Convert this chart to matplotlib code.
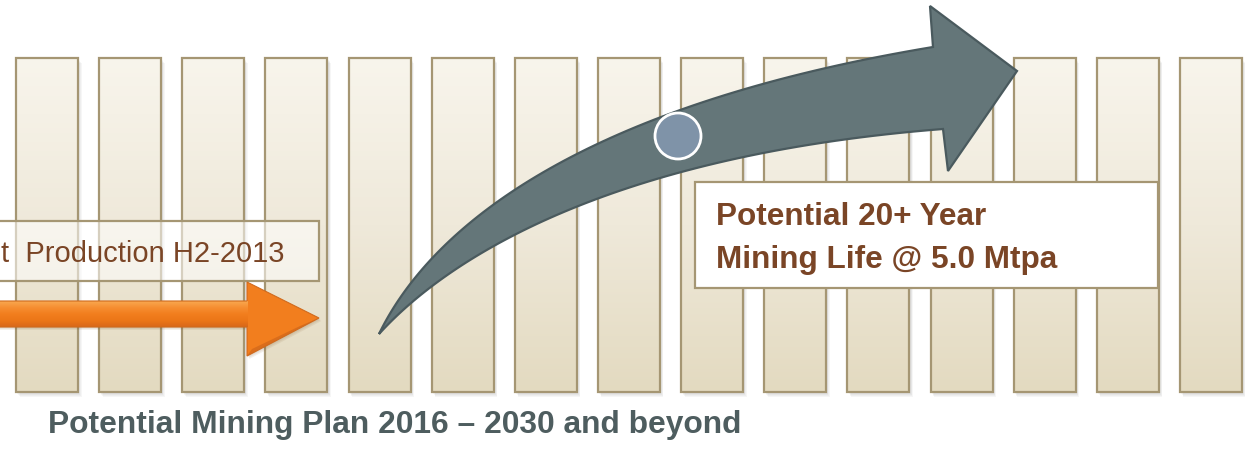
import numpy as np
import matplotlib
matplotlib.use("Agg")
import matplotlib.pyplot as plt
from matplotlib.patches import Rectangle, Polygon, Circle
from matplotlib.colors import LinearSegmentedColormap

# ---- content ----
columns = list(range(15))                       # 15 timeline columns
production_label = "t  Production H2-2013"
life_label_lines = ["Potential 20+ Year", "Mining Life @ 5.0 Mtpa"]
title_label = "Potential Mining Plan 2016 \u2013 2030 and beyond"

W, H = 1247, 452
fig = plt.figure(figsize=(W / 100, H / 100), dpi=100)
ax = fig.add_axes([0, 0, 1, 1])
ax.set_xlim(0, W)
ax.set_ylim(H, 0)
ax.axis("off")

FONT = ["Liberation Sans", "DejaVu Sans"]

# ---- columns ----
col_left0, col_pitch, col_w = 16, 83.14, 62
col_top, col_bot = 59, 393
bar_cmap = LinearSegmentedColormap.from_list("bar", ["#F8F5EC", "#EFE9DA", "#E3DAC0"])
grad = np.linspace(0, 1, 256).reshape(-1, 1)
for i in columns:
    x0 = col_left0 + i * col_pitch
    for k in range(1, 6):
        ax.add_patch(Rectangle((x0 + k * 0.7, col_top + k * 0.9), col_w, col_bot - col_top,
                               facecolor="#606060", edgecolor="none", alpha=0.05, zorder=1))
    im = ax.imshow(grad, cmap=bar_cmap, aspect="auto",
                   extent=(x0, x0 + col_w, col_bot, col_top), zorder=2, interpolation="bilinear")
    r = Rectangle((x0, col_top), col_w, col_bot - col_top, facecolor="none",
                  edgecolor="#A59673", lw=1.6, zorder=3)
    ax.add_patch(r)
    im.set_clip_path(r)

# ---- production box (semi-transparent) ----
ax.add_patch(Rectangle((-3, 222), 322, 60, facecolor="white", alpha=0.55,
                       edgecolor="none", zorder=4))
ax.add_patch(Rectangle((-3, 222), 322, 60, facecolor="none",
                       edgecolor="#A59673", lw=1.6, zorder=4.1))
ax.text(1, 262, production_label, fontsize=21, color="#7A4526", family=FONT,
        va="baseline", ha="left", zorder=5)

# ---- orange arrow ----
orange_pts = [(-10, 302), (247, 302), (247, 283), (319, 319), (247, 357), (247, 328), (-10, 328)]
for k in range(1, 4):
    ax.add_patch(Polygon([(x + k * 0.8, y + k * 1.0) for x, y in orange_pts], closed=True,
                         facecolor="#704010", edgecolor="none", alpha=0.08, zorder=5))
ax.add_patch(Polygon(orange_pts, closed=True, facecolor="#F27E1E", edgecolor="none", zorder=6))
head_shade = Polygon([(247, 357), (319, 319), (300, 327), (252, 350)], closed=True,
                     facecolor="#D0661A", edgecolor="none", alpha=0.7, zorder=6.05)
ax.add_patch(head_shade)
orange_cmap = LinearSegmentedColormap.from_list(
    "orange", ["#F9A850", "#F68E32", "#F27E1E", "#EC7618", "#D8671A"])
shaft = Rectangle((-10, 302), 257.5, 26, facecolor="none", edgecolor="none", zorder=6.1)
ax.add_patch(shaft)
oim = ax.imshow(grad, cmap=orange_cmap, aspect="auto", extent=(-10, 248, 328, 302),
                zorder=6.1, interpolation="bilinear")
oim.set_clip_path(shaft)
ax.add_patch(Polygon(orange_pts, closed=True, facecolor="none", edgecolor="#D06A1E",
                     lw=0.8, zorder=6.2))

# ---- curved grey arrow ----
def cubic(p0, p1, p2, p3, n=80):
    t = np.linspace(0, 1, n)[:, None]
    p0, p1, p2, p3 = map(np.array, (p0, p1, p2, p3))
    return (1 - t) ** 3 * p0 + 3 * (1 - t) ** 2 * t * p1 + 3 * (1 - t) * t ** 2 * p2 + t ** 3 * p3

upper = cubic((379, 335), (425, 240), (560, 110), (933, 48))
lower = cubic((379, 335), (420, 290), (560, 160), (943, 130))
head = np.array([(930, 7), (1017, 72), (948, 172)])
grey_pts = np.vstack([upper, head, lower[::-1]])
ax.add_patch(Polygon(grey_pts, closed=True, facecolor="#647679", edgecolor="#4A5A5E",
                     lw=1.6, joinstyle="miter", zorder=7))

ax.add_patch(Circle((678, 137), 23, facecolor="#7F93A8", edgecolor="white", lw=2, zorder=8))

# ---- life box ----
ax.add_patch(Rectangle((695, 183), 463, 106, facecolor="white", edgecolor="#A59673",
                       lw=1.6, zorder=9))
ax.text(716, 225, life_label_lines[0], fontsize=22.7, fontweight="bold", color="#7A4526",
        family=FONT, va="baseline", ha="left", zorder=10)
ax.text(716, 268, life_label_lines[1], fontsize=22.7, fontweight="bold", color="#7A4526",
        family=FONT, va="baseline", ha="left", zorder=10)

# ---- title ----
ax.text(48, 433, title_label, fontsize=22.9, fontweight="bold", color="#4E5D5F",
        family=FONT, va="baseline", ha="left", zorder=10)

fig.savefig("out.png", dpi=100)
